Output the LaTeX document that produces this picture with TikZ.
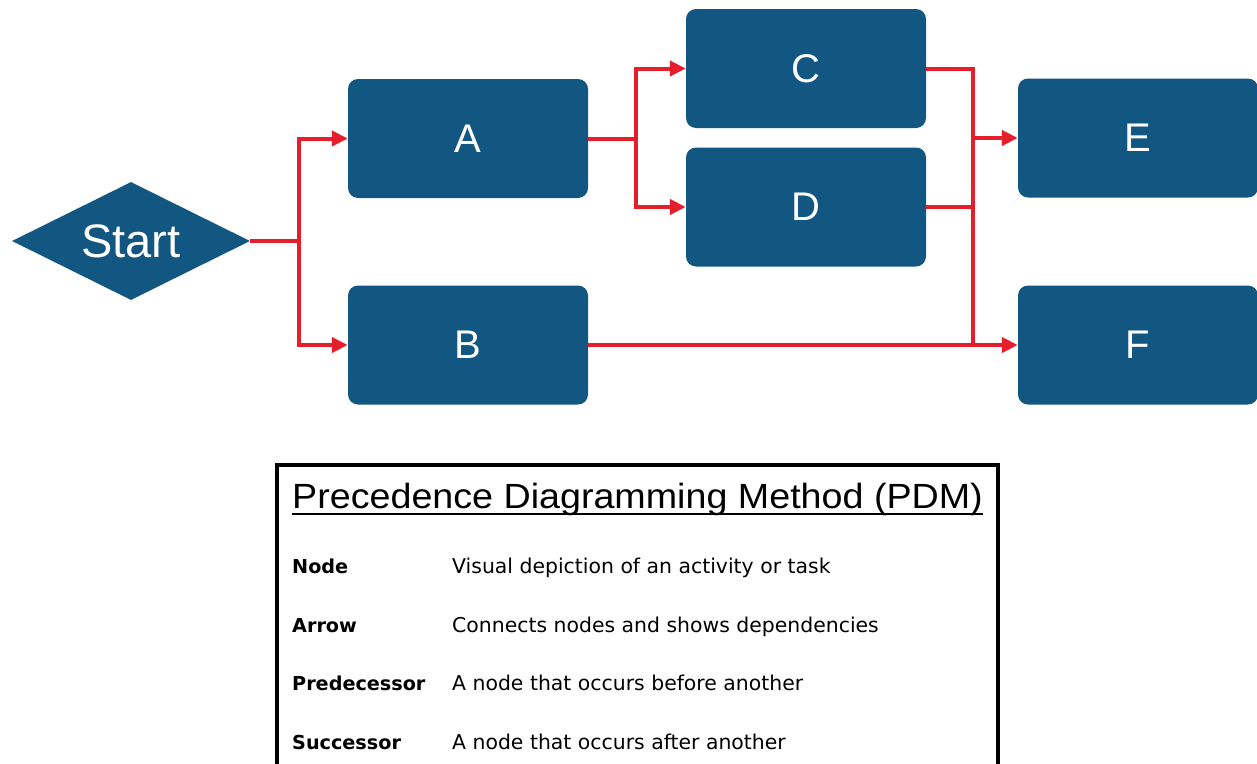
\documentclass[tikz,border=0pt]{standalone}
\usepackage{fontspec}
\setmainfont{Liberation Sans}
\newfontfamily\bodyfont{DejaVu Sans}
\usetikzlibrary{arrows.meta,shapes.geometric}
\definecolor{nodeblue}{RGB}{18,86,130}
\definecolor{linkred}{RGB}{228,30,42}
\tikzset{
 task/.style={rectangle, rounded corners=10pt, fill=nodeblue, minimum width=240pt, minimum height=119pt, inner sep=0pt, text=white, font=\fontsize{40}{40}\selectfont},
 startnode/.style={diamond, aspect=2, fill=nodeblue, minimum width=238pt, minimum height=118pt, inner sep=0pt, text=white, font=\fontsize{47}{47}\selectfont},
 link/.style={draw=linkred, line width=4pt},
 linkarrow/.style={link, -{Triangle[length=16pt,width=15pt]}},
 term/.style={anchor=base west, inner sep=0pt, font=\bodyfont\bfseries\fontsize{19.2}{20}\selectfont},
 desc/.style={anchor=base west, inner sep=0pt, font=\bodyfont\fontsize{20.4}{21}\selectfont},
 legendbox/.style={draw=black, line width=4pt},
}
\begin{document}
\begin{tikzpicture}[x=1pt,y=-1pt]
\useasboundingbox (0,0) rectangle (1257,763);
\clip (0,0) rectangle (1257,763);
% nodes
\node[startnode] (start) at (131,241) {Start};
\node[task] (A) at (468,138.5) {A};
\node[task] (B) at (468,345) {B};
\node[task] (C) at (806,68.5) {C};
\node[task] (D) at (806,207) {D};
\node[task] (E) at (1138,138) {E};
\node[task] (F) at (1138,345) {F};
% junctions
\coordinate (j1) at (299,241);
\coordinate (j2) at (636,138.5);
\coordinate (j3) at (973,345);
\coordinate (jd) at (973,207);
\coordinate (je) at (973,138);
% connectors
\draw[link] (start.east) -- (j1);
\draw[linkarrow] (j1) |- (A.west);
\draw[linkarrow] (j1) |- (B.west);
\draw[link] (A.east) -- (j2);
\draw[linkarrow] (j2) |- (C.west);
\draw[linkarrow] (j2) |- (D.west);
\draw[link] (C.east) -| (j3);
\draw[link] (D.east) -- (jd);
\draw[linkarrow] (je) -- (E.west);
\draw[linkarrow] (B.east) -- (F.west);
% legend
\draw[legendbox] (277,465) rectangle (998,800);
\node[anchor=base west, inner sep=0pt] (title) at (292,508) {\fontsize{35}{35}\selectfont\scalebox{1.076}[1]{Precedence Diagramming Method (PDM)}};
\draw[line width=2pt] (292,514) -- (983,514);
\node[term] (t1) at (292,573) {Node};
\node[desc] (d1) at (452,573) {Visual depiction of an activity or task};
\node[term] (t2) at (292,632) {Arrow};
\node[desc] (d2) at (452,632) {Connects nodes and shows dependencies};
\node[term] (t3) at (292,690) {Predecessor};
\node[desc] (d3) at (452,690) {A node that occurs before another};
\node[term] (t4) at (292,749) {Successor};
\node[desc] (d4) at (452,749) {A node that occurs after another};
\end{tikzpicture}
\end{document}
